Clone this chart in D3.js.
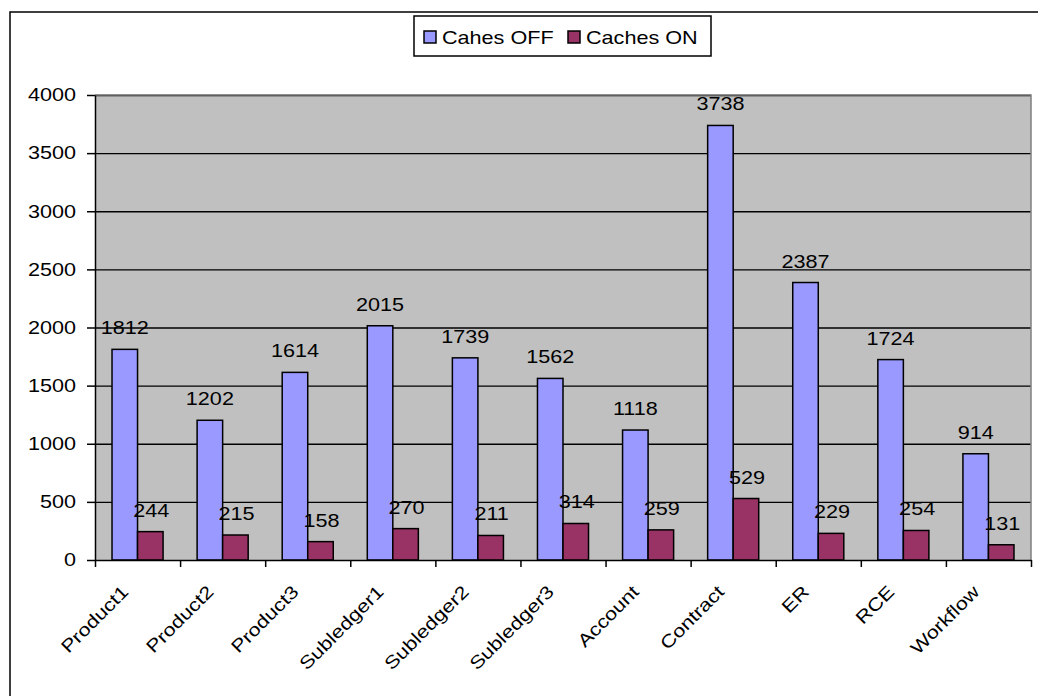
<!DOCTYPE html>
<html>
<head>
<meta charset="utf-8">
<script src="https://cdn.jsdelivr.net/npm/d3@7"></script>
<style>
  body { margin: 0; background: #fff; }
  text { font-family: "Liberation Sans", Arial, sans-serif; fill: #000; }
</style>
</head>
<body>
<svg id="chart"></svg>
<script>
// data
const categories = ["Product1", "Product2", "Product3", "Subledger1", "Subledger2", "Subledger3",
                    "Account", "Contract", "ER", "RCE", "Workflow"];
const seriesNames = ["Cahes OFF", "Caches ON"];
const cachesOff = [1812, 1202, 1614, 2015, 1739, 1562, 1118, 3738, 2387, 1724, 914];
const cachesOn = [244, 215, 158, 270, 211, 314, 259, 529, 229, 254, 131];
const yTicks = [0, 500, 1000, 1500, 2000, 2500, 3000, 3500, 4000];

const colors = ["#9999ff", "#993366"];
const svgWidth = 1038, svgHeight = 696;
const plot = {left: 95, top: 95, right: 1031, bottom: 560};
const stretchX = 1.2; // text in the picture is a bit wider than normal

const chart = d3.select("#chart")
    .attr("width", svgWidth)
    .attr("height", svgHeight);

// outer chart frame (runs off the picture right and bottom)
chart.append("rect")
    .attr("x", 10).attr("y", 12)
    .attr("width", 1200).attr("height", 900)
    .attr("fill", "#fff")
    .attr("stroke", "#000")
    .attr("stroke-width", 1.5);

const rows = categories.map((c, i) => ({cat: c, values: [cachesOff[i], cachesOn[i]]}));

const xScale = d3.scaleBand().domain(categories).range([plot.left, plot.right]).padding(0);
const xInner = d3.scaleBand().domain([0, 1])
    .range([xScale.bandwidth() * 0.2, xScale.bandwidth() * 0.8]).padding(0);
const yScale = d3.scaleLinear().domain([0, 4000]).range([plot.bottom, plot.top]);
const tickPos = d3.scaleLinear().domain([0, categories.length]).range([plot.left, plot.right]);

// plot background
chart.append("rect")
    .attr("x", plot.left).attr("y", plot.top)
    .attr("width", plot.right - plot.left).attr("height", plot.bottom - plot.top)
    .attr("fill", "#c0c0c0");

// gridlines
chart.append("g")
    .attr("transform", "translate(" + plot.left + ",0)")
    .call(d3.axisLeft(yScale).tickValues(yTicks.slice(1)).tickSize(-(plot.right - plot.left)).tickFormat(""))
    .call(g => g.select(".domain").remove())
    .selectAll("line").attr("stroke", "#000").attr("stroke-width", 1.4);

// plot border top/right
chart.append("path")
    .attr("d", "M" + plot.left + "," + plot.top + "H" + plot.right + "V" + plot.bottom)
    .attr("fill", "none").attr("stroke", "#808080").attr("stroke-width", 1.5);

// bars
const groups = chart.append("g").selectAll("g")
    .data(rows).enter().append("g")
    .attr("transform", d => "translate(" + xScale(d.cat) + ",0)");

groups.selectAll("rect")
    .data(d => d.values.map((v, k) => ({v: v, k: k})))
    .enter().append("rect")
    .attr("x", d => xInner(d.k))
    .attr("y", d => yScale(d.v))
    .attr("width", xInner.bandwidth())
    .attr("height", d => yScale(0) - yScale(d.v))
    .attr("fill", d => colors[d.k])
    .attr("stroke", "#000")
    .attr("stroke-width", 1.5);

// value labels
groups.selectAll("text")
    .data(d => d.values.map((v, k) => ({v: v, k: k})))
    .enter().append("text")
    .attr("transform", d => "translate(" + (xInner(d.k) + xInner.bandwidth() / 2 + d.k) + "," +
        (yScale(d.v) - 15) + ") scale(" + stretchX + ",1)")
    .attr("text-anchor", "middle")
    .style("font-size", "18px")
    .text(d => d.v);

// y axis
const yAxisG = chart.append("g")
    .attr("transform", "translate(" + plot.left + ",0)")
    .call(d3.axisLeft(yScale).tickValues(yTicks).tickFormat(d3.format("d"))
        .tickSize(8).tickPadding(11).tickSizeOuter(0));
yAxisG.select(".domain").attr("stroke", "#000").attr("stroke-width", 1.5);
yAxisG.selectAll("line").attr("stroke", "#000").attr("stroke-width", 1.5);
yAxisG.selectAll("text")
    .attr("x", -19 / stretchX)
    .attr("transform", "scale(" + stretchX + ",1)")
    .style("font-size", "18px")
    .attr("fill", "#000");

// x axis with ticks between categories
const xAxisG = chart.append("g")
    .attr("transform", "translate(0," + plot.bottom + ")")
    .call(d3.axisBottom(tickPos).tickValues(d3.range(categories.length + 1)).tickSize(7).tickFormat("").tickSizeOuter(0));
xAxisG.select(".domain").attr("stroke", "#000").attr("stroke-width", 1.5);
xAxisG.selectAll("line").attr("stroke", "#000").attr("stroke-width", 1.5);

// rotated category labels
chart.append("g").selectAll("text")
    .data(categories).enter().append("text")
    .attr("transform", d => "translate(" + (xScale(d) + xScale.bandwidth() / 2 - 8) + "," + (plot.bottom + 33) +
        ") rotate(-45) scale(" + stretchX + ",1)")
    .attr("text-anchor", "end")
    .style("font-size", "18px")
    .text(d => d);

// legend
const legend = chart.append("g");
legend.append("rect")
    .attr("x", 414).attr("y", 16).attr("width", 297).attr("height", 40)
    .attr("fill", "#fff").attr("stroke", "#000").attr("stroke-width", 1.5);

const legendX = [424, 568];
seriesNames.forEach((name, k) => {
    legend.append("rect")
        .attr("x", legendX[k]).attr("y", 31).attr("width", 12).attr("height", 12)
        .attr("fill", colors[k]).attr("stroke", "#000").attr("stroke-width", 1.5);
    legend.append("text")
        .attr("transform", "translate(" + (legendX[k] + 18) + ",44) scale(" + stretchX + ",1)")
        .style("font-size", "18px")
        .text(name);
});
</script>
</body>
</html>
